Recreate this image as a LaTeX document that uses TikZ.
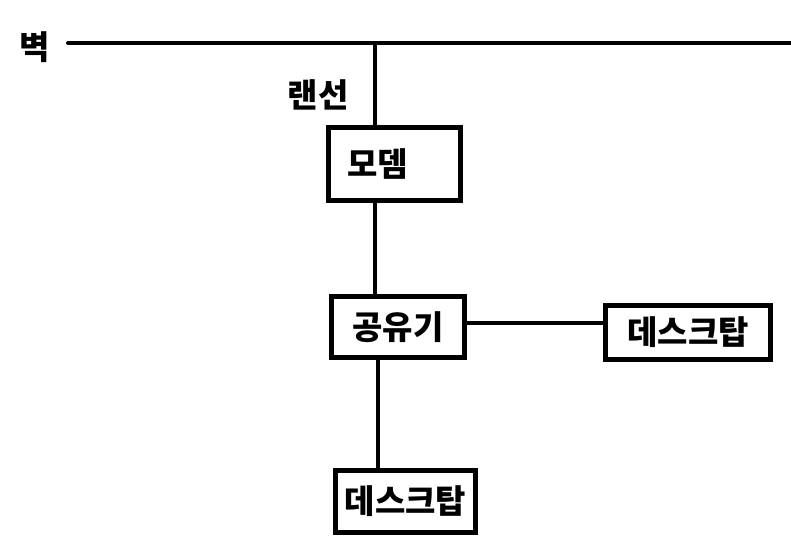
\documentclass[tikz,border=0pt]{standalone}
\usepackage{fontspec}
\setmainfont{Noto Sans CJK KR}
\usetikzlibrary{positioning}
\tikzset{
  box/.style={rectangle, draw=black, line width=5pt, fill=white,
              inner sep=0pt, font=\fontsize{33}{36}\selectfont\bfseries},
  lbl/.style={font=\fontsize{33}{36}\selectfont\bfseries, inner sep=0pt},
  wire/.style={line width=4pt, color=black}
}

\begin{document}
\begin{tikzpicture}[x=1pt, y=-1pt]
  \useasboundingbox (0,0) rectangle (791,550);

  % Wall and tap point
  \coordinate (wallL) at (68,43);
  \coordinate (wallR) at (791,43);
  \coordinate (tap)   at (375,43);
  \node[lbl] (wall) at (35,47) {벽};
  \node[lbl] (lan)  at (318,95) {랜선};

  % Nodes
  \node[box, minimum width=132pt, minimum height=73pt,
        label={[lbl, xshift=-17pt]center:모뎀}] (modem) at (394.5,164) {};
  \node[box, minimum width=133pt, minimum height=61pt] (router) at (398,327) {공유기};
  \node[box, minimum width=165pt, minimum height=54pt] (desk1) at (688,332.5) {데스크탑};
  \node[box, minimum width=140pt, minimum height=62pt] (desk2) at (405.5,501.5) {데스크탑};

  % Wires
  \draw[wire, line cap=round] (wallL) -- (wallR);
  \draw[wire] (tap) -- (tap |- modem.north);
  \draw[wire] (modem.south -| tap) -- (router.north -| tap);
  \draw[wire] ([yshift=4pt]router.east) -- ([yshift=4pt]router.east -| desk1.west);
  \draw[wire] ([xshift=-20pt]router.south) -- ([xshift=-27.5pt]desk2.north);

\end{tikzpicture}
\end{document}
